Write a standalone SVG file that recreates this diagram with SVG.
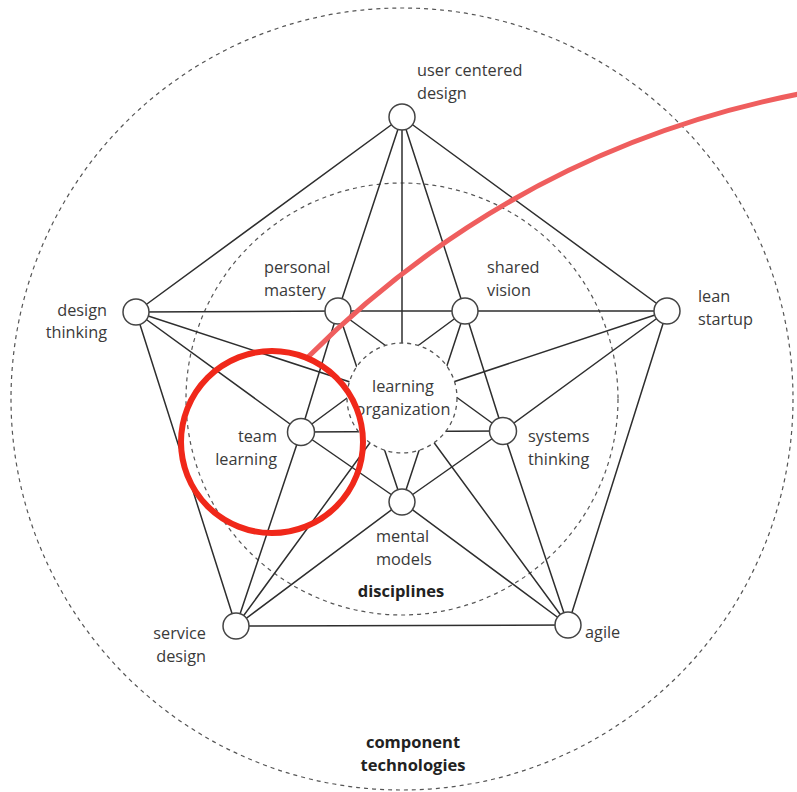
<svg xmlns="http://www.w3.org/2000/svg" width="797" height="792" viewBox="0 0 797 792">
<style>
.bg{fill:#ffffff}
.zone{fill:none;stroke:#555;stroke-width:1.2;stroke-dasharray:4 4}
.lo{fill:#ffffff;stroke:#555;stroke-width:1.3;stroke-dasharray:4 4}
.edge{stroke:#2e2e2e;stroke-width:1.5;fill:none;stroke-linecap:round}
.node{fill:#ffffff;stroke:#444;stroke-width:1.5}
.lbl{font-family:"Open Sans","Noto Sans",sans-serif;font-size:16.3px;fill:#3a3a3a}
.bold{font-family:"Open Sans","Noto Sans",sans-serif;font-size:16.5px;font-weight:bold;fill:#222}
.mid{text-anchor:middle}
.end{text-anchor:end}
.hl{fill:none;stroke:#f0281a;stroke-width:6}
.arc{fill:none;stroke:#ef5e5e;stroke-width:5;stroke-linecap:round}
</style>
<rect class="bg" x="0" y="0" width="797" height="792"/>
<g id="component-technologies">
<circle class="zone" cx="402" cy="399" r="391"/>
<text class="bold mid" x="413" y="748">component</text>
<text class="bold mid" x="413" y="771">technologies</text>
</g>
<g id="disciplines">
<circle class="zone" cx="402" cy="399" r="216"/>
<text class="bold mid" x="401" y="597">disciplines</text>
</g>
<g id="connectors">
<line class="edge" x1="402" y1="117" x2="136" y2="312"/>
<line class="edge" x1="402" y1="117" x2="667" y2="311"/>
<line class="edge" x1="136" y1="312" x2="236" y2="626"/>
<line class="edge" x1="667" y1="311" x2="568" y2="625"/>
<line class="edge" x1="236" y1="626" x2="568" y2="625"/>
<line class="edge" x1="136" y1="312" x2="338" y2="311"/>
<line class="edge" x1="338" y1="311" x2="465" y2="311"/>
<line class="edge" x1="465" y1="311" x2="667" y2="311"/>
<line class="edge" x1="402" y1="117" x2="338" y2="311"/>
<line class="edge" x1="338" y1="311" x2="301" y2="432"/>
<line class="edge" x1="301" y1="432" x2="236" y2="626"/>
<line class="edge" x1="402" y1="117" x2="465" y2="311"/>
<line class="edge" x1="465" y1="311" x2="503" y2="431"/>
<line class="edge" x1="503" y1="431" x2="568" y2="625"/>
<line class="edge" x1="136" y1="312" x2="301" y2="432"/>
<line class="edge" x1="301" y1="432" x2="402" y2="502"/>
<line class="edge" x1="402" y1="502" x2="568" y2="625"/>
<line class="edge" x1="667" y1="311" x2="503" y2="431"/>
<line class="edge" x1="503" y1="431" x2="402" y2="502"/>
<line class="edge" x1="402" y1="502" x2="236" y2="626"/>
<line class="edge" x1="338" y1="311" x2="402" y2="502"/>
<line class="edge" x1="338" y1="311" x2="503" y2="431"/>
<line class="edge" x1="465" y1="311" x2="301" y2="432"/>
<line class="edge" x1="465" y1="311" x2="402" y2="502"/>
<line class="edge" x1="301" y1="432" x2="503" y2="431"/>
<line class="edge" x1="402" y1="117" x2="402" y2="399"/>
<line class="edge" x1="136" y1="312" x2="402" y2="399"/>
<line class="edge" x1="667" y1="311" x2="402" y2="399"/>
<line class="edge" x1="236" y1="626" x2="402" y2="399"/>
<line class="edge" x1="568" y1="625" x2="402" y2="399"/>
</g>
<g id="learning-organization">
<circle class="lo" cx="402" cy="398" r="55"/>
<text class="lbl mid" x="403" y="392">learning</text>
<text class="lbl mid" x="403" y="415">organization</text>
</g>
<g id="user-centered-design">
<circle class="node" cx="402" cy="117" r="13"/>
<text class="lbl" x="417" y="76">user centered</text>
<text class="lbl" x="417" y="99">design</text>
</g>
<g id="design-thinking">
<circle class="node" cx="136" cy="312" r="13"/>
<text class="lbl end" x="107" y="316">design</text>
<text class="lbl end" x="107" y="338">thinking</text>
</g>
<g id="lean-startup">
<circle class="node" cx="667" cy="311" r="13"/>
<text class="lbl" x="698" y="302">lean</text>
<text class="lbl" x="698" y="325">startup</text>
</g>
<g id="service-design">
<circle class="node" cx="236" cy="626" r="13"/>
<text class="lbl end" x="206" y="639">service</text>
<text class="lbl end" x="206" y="662">design</text>
</g>
<g id="agile">
<circle class="node" cx="568" cy="625" r="13"/>
<text class="lbl" x="585" y="638">agile</text>
</g>
<g id="personal-mastery">
<circle class="node" cx="338" cy="311" r="13"/>
<text class="lbl" x="264" y="273">personal</text>
<text class="lbl" x="264" y="296">mastery</text>
</g>
<g id="shared-vision">
<circle class="node" cx="465" cy="311" r="13"/>
<text class="lbl" x="487" y="273">shared</text>
<text class="lbl" x="487" y="296">vision</text>
</g>
<g id="team-learning">
<circle class="node" cx="301" cy="432" r="13.5"/>
<text class="lbl end" x="277" y="442">team</text>
<text class="lbl end" x="277" y="465">learning</text>
</g>
<g id="systems-thinking">
<circle class="node" cx="503" cy="431" r="13.5"/>
<text class="lbl" x="528" y="442">systems</text>
<text class="lbl" x="528" y="465">thinking</text>
</g>
<g id="mental-models">
<circle class="node" cx="402" cy="502" r="13"/>
<text class="lbl" x="376" y="542">mental</text>
<text class="lbl" x="376" y="565">models</text>
</g>
<g id="highlight">
<path class="arc" d="M307,358 Q515,150 799,94"/>
<circle class="hl" cx="272" cy="442" r="91"/>
</g>
</svg>
